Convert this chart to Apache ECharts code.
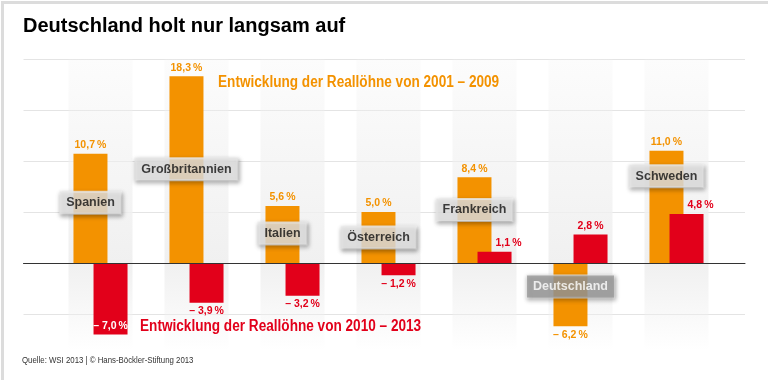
<!DOCTYPE html>
<html>
<head>
<meta charset="utf-8">
<script src="https://cdn.jsdelivr.net/npm/echarts@6/dist/echarts.min.js"></script>
<style>html,body{margin:0;padding:0;background:#fff}#c{width:768px;height:380px}</style>
</head>
<body>
<div id="c"></div>
<script>
// ---- data ----
const countries = ['Spanien', 'Großbritannien', 'Italien', 'Österreich', 'Frankreich', 'Deutschland', 'Schweden'];
const real2001_2009 = [10.7, 18.3, 5.6, 5.0, 8.4, -6.2, 11.0];
const real2010_2013 = [-7.0, -3.9, -3.2, -1.2, 1.1, 2.8, 4.8];
const labelAnchor = [5.9, 9.2, 2.9, 2.5, 5.2, -2.3, 8.5]; // y-value where country name box sits
const yTicks = { min: -10, max: 20, step: 5 };
const titleText = 'Deutschland holt nur langsam auf';
const legendA = 'Entwicklung der Reallöhne von 2001 – 2009';
const legendB = 'Entwicklung der Reallöhne von 2010 – 2013';
const sourceText = 'Quelle: WSI 2013 | © Hans-Böckler-Stiftung 2013';
const highlight = 'Deutschland';

// ---- styles ----
const ORANGE = '#f39200';
const RED = '#e2001a';
const SANS = '"Liberation Sans", Arial, sans-serif';

function fmt(v) {
  const s = Math.abs(v).toFixed(1).replace('.', ',') + '\u2009%';
  return v < 0 ? '– ' + s : s;
}

const chart = echarts.init(document.getElementById('c'), null, { renderer: 'canvas' });

const GRID_TOP = 59, GRID_BOTTOM = 15;

const bandTop = countries.map(() => 20);
const bandBottom = countries.map(() => -8.6);

function redLabel(v, i) {
  if (v <= -5) return { position: 'insideBottom', color: '#ffffff', distance: 3 };
  if (v < 0) return { position: 'bottom' };
  // positive red bar partly hidden by a taller orange bar: shift label right
  if (real2001_2009[i] > v) return { position: 'top', offset: [14, 0] };
  return { position: 'top' };
}

const option = {
  animation: false,
  backgroundColor: '#ffffff',
  grid: [
    { left: 23.5, right: 23, top: GRID_TOP, bottom: GRID_BOTTOM },
    { left: 52.5, right: 43.5, top: GRID_TOP, bottom: GRID_BOTTOM }
  ],
  xAxis: [
    { type: 'value', gridIndex: 0, min: 0, max: 1, axisLabel: { show: false }, axisTick: { show: false },
      splitLine: { show: false }, axisLine: { show: true, onZero: true, lineStyle: { color: '#333333', width: 1 } }, z: 5 },
    { type: 'category', gridIndex: 1, data: countries, show: false },
    { type: 'category', gridIndex: 1, data: countries, show: false }
  ],
  yAxis: [
    { type: 'value', gridIndex: 0, min: yTicks.min, max: yTicks.max, interval: yTicks.step,
      axisLabel: { show: false }, axisTick: { show: false }, axisLine: { show: false },
      splitLine: { show: true, showMinLine: false, lineStyle: { color: '#e4e4e4', width: 1 } } },
    { type: 'value', gridIndex: 1, min: yTicks.min, max: yTicks.max, interval: yTicks.step, show: false, splitLine: { show: false } }
  ],
  series: [
    {
      type: 'bar', xAxisIndex: 2, yAxisIndex: 1, stack: 'band', barWidth: 64, silent: true, z: 0,
      data: bandTop,
      itemStyle: { color: new echarts.graphic.LinearGradient(0, 0, 0, 1, [
        { offset: 0, color: 'rgba(240,240,240,0.2)' }, { offset: 1, color: 'rgba(240,240,240,1)' }]) }
    },
    {
      type: 'bar', xAxisIndex: 2, yAxisIndex: 1, stack: 'band', barWidth: 64, silent: true, z: 0,
      data: bandBottom,
      itemStyle: { color: new echarts.graphic.LinearGradient(0, 0, 0, 1, [
        { offset: 0, color: 'rgba(240,240,240,1)' }, { offset: 1, color: 'rgba(240,240,240,0)' }]) }
    },
    {
      name: legendA, type: 'bar', xAxisIndex: 1, yAxisIndex: 1, barWidth: 34, barGap: '-41%', z: 2,
      itemStyle: { color: ORANGE },
      data: real2001_2009.map(v => ({
        value: v,
        label: { position: v < 0 ? 'bottom' : 'top' }
      })),
      label: { show: true, distance: 3, color: ORANGE, fontFamily: SANS, fontWeight: 'bold', fontSize: 10.5,
        formatter: p => fmt(p.value) }
    },
    {
      name: legendB, type: 'bar', xAxisIndex: 1, yAxisIndex: 1, barWidth: 34, barGap: '-41%', z: 3,
      itemStyle: { color: RED },
      data: real2010_2013.map((v, i) => ({ value: v, label: redLabel(v, i) })),
      label: { show: true, distance: 3, color: RED, fontFamily: SANS, fontWeight: 'bold', fontSize: 10.5,
        formatter: p => fmt(p.value) }
    },
    {
      type: 'scatter', xAxisIndex: 1, yAxisIndex: 1, symbolSize: 1, z: 10, silent: true,
      itemStyle: { color: 'rgba(0,0,0,0)' },
      data: countries.map((c, i) => {
        const item = { value: [i, labelAnchor[i]], name: c };
        if (c === highlight) item.label = { backgroundColor: '#9a9a9a', color: '#ffffff' };
        return item;
      }),
      label: {
        show: true, position: 'inside', offset: [-10, 0], formatter: p => p.name,
        color: '#111111', fontFamily: SANS, fontWeight: 'bold', fontSize: 12.5, lineHeight: 15,
        backgroundColor: '#e6e6e6', padding: [4, 6, 3, 6],
        borderColor: '#f4f4f4', borderWidth: 1,
        shadowColor: 'rgba(0,0,0,0.35)', shadowBlur: 4, shadowOffsetX: 1, shadowOffsetY: 2
      }
    }
  ],
  graphic: [
    { type: 'rect', left: 0, top: 0, z: 100, silent: true,
      shape: { x: 0, y: 0, width: 768, height: 380 },
      style: { fill: 'none', stroke: '#dcdcdc', lineWidth: 3 } },
    { type: 'text', left: 23, top: 16, z: 100,
      style: { text: titleText, fill: '#000000', font: 'bold 20px ' + SANS } },
    { type: 'text', x: 218, y: 75, scaleX: 0.85, z: 100,
      style: { text: legendA, fill: ORANGE, font: 'bold 16px ' + SANS } },
    { type: 'text', x: 140, y: 319, scaleX: 0.85, z: 100,
      style: { text: legendB, fill: RED, font: 'bold 16px ' + SANS } },
    { type: 'text', x: 22, y: 356, scaleX: 0.87, z: 100,
      style: { text: sourceText, fill: '#333333', font: '9px ' + SANS } }
  ]
};
chart.setOption(option);
</script>
</body>
</html>
